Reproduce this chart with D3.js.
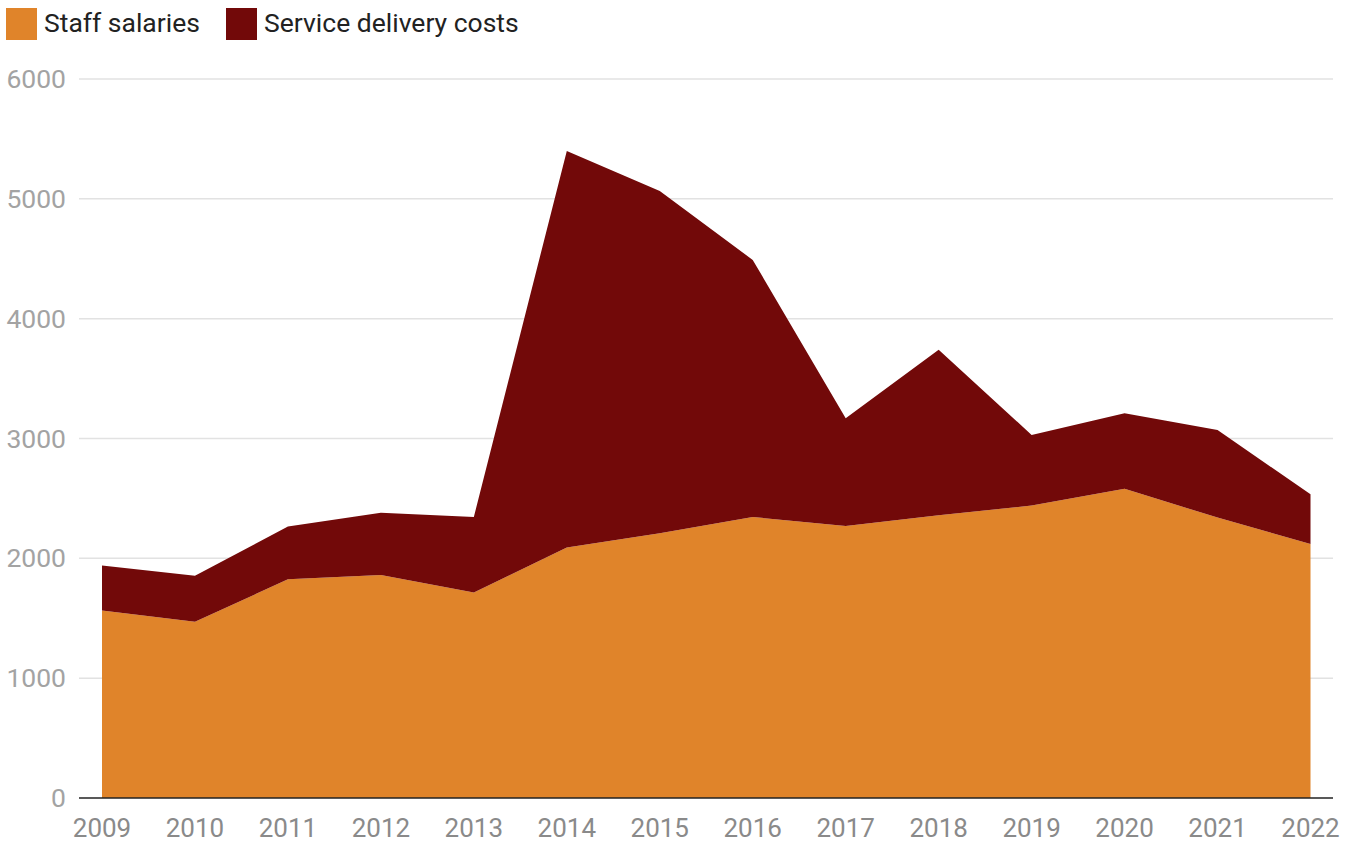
<!DOCTYPE html>
<html>
<head>
<meta charset="utf-8">
<script src="https://cdn.jsdelivr.net/npm/d3@7"></script>
<style>
  body { margin: 0; background: #fff; font-family: Roboto, "Noto Sans", sans-serif; }
</style>
</head>
<body>
<div id="chart"></div>
<script>
// values
const years = [2009, 2010, 2011, 2012, 2013, 2014, 2015, 2016, 2017, 2018, 2019, 2020, 2021, 2022];
const staffSalaries = [1565, 1470, 1825, 1860, 1715, 2090, 2210, 2345, 2270, 2360, 2440, 2580, 2340, 2120];
const serviceDelivery = [375, 385, 440, 520, 630, 3310, 2855, 2145, 900, 1380, 590, 630, 730, 415];
const yTicks = [0, 1000, 2000, 3000, 4000, 5000, 6000];
const seriesNames = ["Staff salaries", "Service delivery costs"];
const seriesColors = ["#e0842a", "#720909"];

const W = 1356, H = 843;
const margin = {top: 79, right: 46, bottom: 45, left: 102};

const svg = d3.select("#chart").append("svg")
    .attr("width", W)
    .attr("height", H);

const x = d3.scaleLinear()
    .domain(d3.extent(years))
    .range([margin.left, 1310.5]);
const y = d3.scaleLinear()
    .domain([0, 6000])
    .range([798, margin.top]);

// gridlines
svg.append("g")
    .selectAll("line")
    .data(yTicks.filter(d => d > 0))
    .join("line")
    .attr("x1", 79).attr("x2", 1333)
    .attr("y1", d => y(d)).attr("y2", d => y(d))
    .attr("stroke", "#e2e2e2")
    .attr("stroke-width", 1.5);

// stack the data
const rows = years.map((yr, i) => ({year: yr, staff: staffSalaries[i], service: serviceDelivery[i]}));
const stacked = d3.stack().keys(["staff", "service"])(rows);

const area = d3.area()
    .x(d => x(d.data.year))
    .y0(d => y(d[0]))
    .y1(d => y(d[1]));

svg.append("g")
    .selectAll("path")
    .data(stacked)
    .join("path")
    .attr("fill", (d, i) => seriesColors[i])
    .attr("d", area);

// baseline
svg.append("line")
    .attr("x1", 79).attr("x2", 1333)
    .attr("y1", y(0)).attr("y2", y(0))
    .attr("stroke", "#222")
    .attr("stroke-width", 1.5);

// y labels
svg.append("g")
    .selectAll("text")
    .data(yTicks)
    .join("text")
    .attr("x", 66)
    .attr("y", d => y(d) + 9)
    .attr("text-anchor", "end")
    .attr("fill", "#a3a3a3")
    .style("font-size", "26.5px")
    .text(d => d);

// x labels
svg.append("g")
    .selectAll("text")
    .data(years)
    .join("text")
    .attr("x", d => x(d))
    .attr("y", 837)
    .attr("text-anchor", "middle")
    .attr("fill", "#8a8a8a")
    .style("font-size", "26px")
    .text(d => d);

// legend
const legendX = [6, 226];
const legend = svg.append("g")
    .selectAll("g")
    .data(seriesNames)
    .join("g")
    .attr("transform", (d, i) => `translate(${legendX[i]}, 8)`);
legend.append("rect")
    .attr("width", 31).attr("height", 32)
    .attr("fill", (d, i) => seriesColors[i]);
legend.append("text")
    .attr("x", 38)
    .attr("y", 24)
    .attr("fill", "#222")
    .style("font-size", "26.5px")
    .text(d => d);
</script>
</body>
</html>
